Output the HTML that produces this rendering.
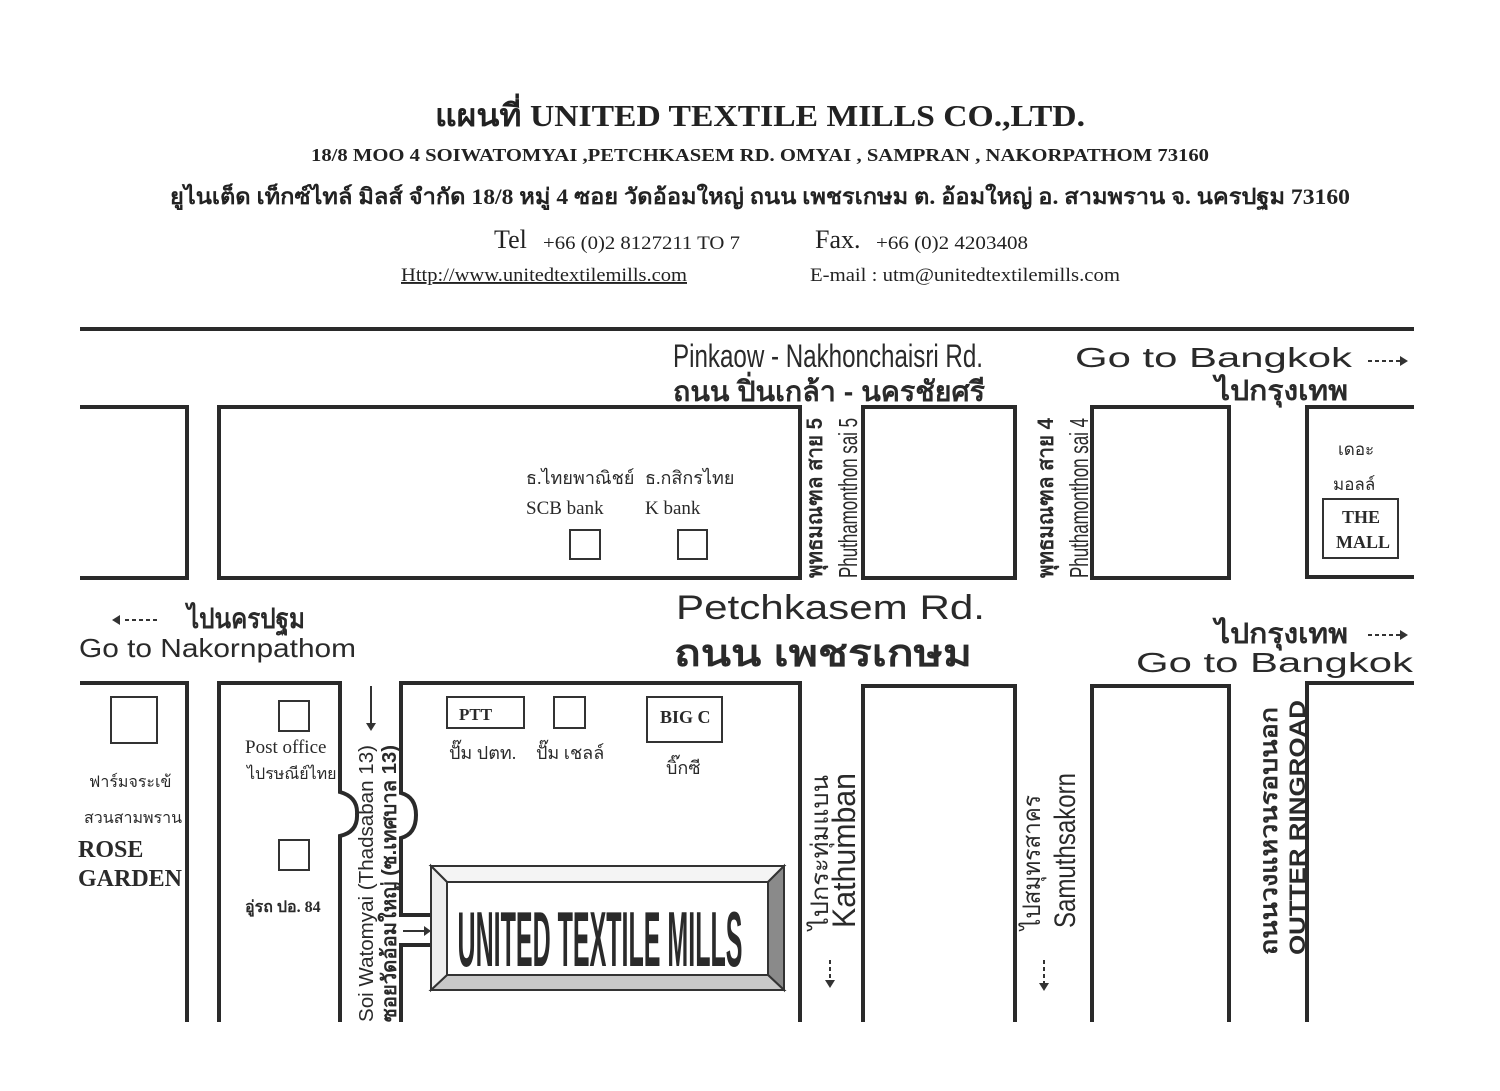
<!DOCTYPE html>
<html><head><meta charset="utf-8"><style>
html,body{margin:0;padding:0;background:#fff;}
svg{display:block}
</style></head><body>
<svg width="1500" height="1091" viewBox="0 0 1500 1091" xmlns="http://www.w3.org/2000/svg">
<rect width="1500" height="1091" fill="#fff"/>
<g font-family="Liberation Serif, 'Noto Serif CJK SC', 'Noto Sans CJK SC', serif" fill="#222" lengthAdjust="spacingAndGlyphs">
<text x="760" y="126" font-size="31" font-weight="bold" text-anchor="middle" textLength="650" lengthAdjust="spacingAndGlyphs">แผนที่ UNITED TEXTILE MILLS CO.,LTD.</text>
<text x="760" y="161" font-size="18" font-weight="bold" text-anchor="middle" textLength="898" lengthAdjust="spacingAndGlyphs">18/8 MOO 4 SOIWATOMYAI ,PETCHKASEM RD. OMYAI , SAMPRAN , NAKORPATHOM 73160</text>
<text x="760" y="204" font-size="22" font-weight="bold" text-anchor="middle" textLength="1180" lengthAdjust="spacingAndGlyphs">ยูไนเต็ด เท็กซ์ไทล์ มิลส์ จำกัด 18/8  หมู่ 4  ซอย วัดอ้อมใหญ่  ถนน เพชรเกษม ต. อ้อมใหญ่  อ. สามพราน  จ. นครปฐม 73160</text>
<text x="494" y="248" font-size="26">Tel</text>
<text x="543" y="249" font-size="19" textLength="197" lengthAdjust="spacingAndGlyphs">+66 (0)2  8127211 TO 7</text>
<text x="815" y="248" font-size="26">Fax.</text>
<text x="876" y="249" font-size="19" textLength="152" lengthAdjust="spacingAndGlyphs">+66 (0)2  4203408</text>
<text x="401" y="281" font-size="19" textLength="286" lengthAdjust="spacingAndGlyphs" text-decoration="underline">Http://www.unitedtextilemills.com</text>
<text x="810" y="281" font-size="19" textLength="310" lengthAdjust="spacingAndGlyphs">E-mail :  utm@unitedtextilemills.com</text>
</g>

<g stroke="#2a2a2a" stroke-width="4" fill="none">
<line x1="80" y1="329" x2="1414" y2="329"/>
<polyline points="80,407 187,407 187,578 80,578"/>
<rect x="219" y="407" width="581" height="171"/>
<rect x="863" y="407" width="152" height="171"/>
<rect x="1092" y="407" width="137" height="171"/>
<polyline points="1414,407 1307,407 1307,577 1414,577"/>
<polyline points="80,683 187,683 187,1022"/>
<path d="M219,1022 L219,683 L340,683 L340,792 Q358,797 357,814 Q358,832 340,836 L340,1022"/>
<path d="M401,1022 L401,945 L431,945 M431,915 L401,915 L401,838 Q416,834 416,815 Q416,797 401,793 L401,683 L800,683 L800,1022"/>
<polyline points="863,1022 863,686 1015,686 1015,1022"/>
<polyline points="1092,1022 1092,686 1229,686 1229,1022"/>
<polyline points="1307,1022 1307,683 1414,683"/>
</g>
<g stroke="#333" stroke-width="2" fill="none">
<rect x="570" y="530" width="30" height="29"/>
<rect x="678" y="530" width="29" height="29"/>
<rect x="1323" y="499" width="75" height="59"/>
<rect x="111" y="697" width="46" height="46"/>
<rect x="279" y="701" width="30" height="30"/>
<rect x="279" y="840" width="30" height="30"/>
<rect x="447" y="697" width="77" height="31"/>
<rect x="554" y="697" width="31" height="31"/>
<rect x="647" y="697" width="75" height="45"/>
<line x1="371" y1="686" x2="371" y2="725"/>
<line x1="403" y1="931" x2="424" y2="931"/>
<line x1="830" y1="960" x2="830" y2="980" stroke-dasharray="4,3"/>
<line x1="1044" y1="960" x2="1044" y2="983" stroke-dasharray="4,3"/>
<line x1="1368" y1="361" x2="1400" y2="361" stroke-dasharray="4,3"/>
<line x1="1368" y1="635" x2="1400" y2="635" stroke-dasharray="4,3"/>
<line x1="125" y1="620" x2="157" y2="620" stroke-dasharray="4,3"/>
</g>
<g fill="#333">
<polygon points="366,723 376,723 371,731"/>
<polygon points="424,926 424,936 431,931"/>
<polygon points="825,980 835,980 830,988"/>
<polygon points="1039,983 1049,983 1044,991"/>
<polygon points="1400,356 1400,366 1408,361"/>
<polygon points="1400,630 1400,640 1408,635"/>
<polygon points="120,615 120,625 112,620"/>
</g>

<g stroke="#333" stroke-width="2">
<polygon points="431,866 784,866 768,882 447,882" fill="#f4f4f4"/>
<polygon points="784,866 784,990 768,975 768,882" fill="#8a8a8a"/>
<polygon points="431,990 784,990 768,975 447,975" fill="#c8c8c8"/>
<polygon points="431,866 447,882 447,975 431,990" fill="#eee"/>
<rect x="447" y="882" width="321" height="93" fill="#fff"/>
</g>
<text x="600" y="966" font-family="Liberation Sans, sans-serif" font-weight="bold" font-size="78" fill="#2a2a2a" text-anchor="middle" textLength="285" lengthAdjust="spacingAndGlyphs">UNITED TEXTILE MILLS</text>

<g font-family="Liberation Sans, 'Noto Sans CJK SC', sans-serif" fill="#2a2a2a">
<text x="673" y="367" font-size="32" textLength="310" lengthAdjust="spacingAndGlyphs">Pinkaow - Nakhonchaisri Rd.</text>
<text x="673" y="401" font-size="28" font-weight="bold" textLength="312" lengthAdjust="spacingAndGlyphs">ถนน ปิ่นเกล้า - นครชัยศรี</text>
<text x="1075" y="367" font-size="28" textLength="277" lengthAdjust="spacingAndGlyphs">Go to Bangkok</text>
<text x="1215" y="400" font-size="28" font-weight="bold" textLength="133" lengthAdjust="spacingAndGlyphs">ไปกรุงเทพ</text>
<text x="676" y="619" font-size="34" textLength="309" lengthAdjust="spacingAndGlyphs">Petchkasem Rd.</text>
<text x="674" y="666" font-size="38" font-weight="bold" textLength="298" lengthAdjust="spacingAndGlyphs">ถนน เพชรเกษม</text>
<text x="187" y="628" font-size="28" font-weight="bold" textLength="118" lengthAdjust="spacingAndGlyphs">ไปนครปฐม</text>
<text x="79" y="657" font-size="26" textLength="277" lengthAdjust="spacingAndGlyphs">Go to Nakornpathom</text>
<text x="1215" y="643" font-size="28" font-weight="bold" textLength="133" lengthAdjust="spacingAndGlyphs">ไปกรุงเทพ</text>
<text x="1136" y="672" font-size="28" textLength="277" lengthAdjust="spacingAndGlyphs">Go to Bangkok</text>
<text font-size="20" transform="translate(373,1022) rotate(-90)" textLength="277" lengthAdjust="spacingAndGlyphs">Soi Watomyai (Thadsaban 13)</text>
<text font-size="20" font-weight="bold" transform="translate(396,1022) rotate(-90)" textLength="277" lengthAdjust="spacingAndGlyphs">ซอยวัดอ้อมใหญ่ (ซ.เทศบาล 13)</text>
<text font-size="24" transform="translate(828,930) rotate(-90)" textLength="155" lengthAdjust="spacingAndGlyphs">ไปกระทุ่มแบน</text>
<text font-size="32" transform="translate(855,928) rotate(-90)" textLength="155" lengthAdjust="spacingAndGlyphs">Kathumban</text>
<text font-size="24" transform="translate(1040,930) rotate(-90)" textLength="135" lengthAdjust="spacingAndGlyphs">ไปสมุทรสาคร</text>
<text font-size="30" transform="translate(1075,928) rotate(-90)" textLength="155" lengthAdjust="spacingAndGlyphs">Samuthsakorn</text>
<text font-size="24" font-weight="bold" transform="translate(1277,955) rotate(-90)" textLength="248" lengthAdjust="spacingAndGlyphs">ถนนวงแหวนรอบนอก</text>
<text font-size="22" font-weight="bold" transform="translate(1305,955) rotate(-90)" textLength="255" lengthAdjust="spacingAndGlyphs">OUTTER RINGROAD</text>
<text font-size="22" font-weight="bold" transform="translate(822,578) rotate(-90)" textLength="160" lengthAdjust="spacingAndGlyphs">พุทธมณฑล สาย 5</text>
<text font-size="26" transform="translate(857,578) rotate(-90)" textLength="160" lengthAdjust="spacingAndGlyphs">Phuthamonthon sai 5</text>
<text font-size="22" font-weight="bold" transform="translate(1053,578) rotate(-90)" textLength="160" lengthAdjust="spacingAndGlyphs">พุทธมณฑล สาย 4</text>
<text font-size="26" transform="translate(1088,578) rotate(-90)" textLength="160" lengthAdjust="spacingAndGlyphs">Phuthamonthon sai 4</text>
</g>
<g font-family="Liberation Serif, 'Noto Serif CJK SC', serif" fill="#2a2a2a">
<text x="526" y="484" font-size="18">ธ.ไทยพาณิชย์</text>
<text x="645" y="484" font-size="18">ธ.กสิกรไทย</text>
<text x="526" y="514" font-size="19">SCB bank</text>
<text x="645" y="514" font-size="19">K bank</text>
<text x="1338" y="455" font-size="17">เดอะ</text>
<text x="1333" y="490" font-size="17">มอลล์</text>
<text x="1361" y="523" font-size="18" font-weight="bold" text-anchor="middle">THE</text>
<text x="1363" y="548" font-size="18" font-weight="bold" text-anchor="middle">MALL</text>
<text x="89" y="787" font-size="16">ฟาร์มจระเข้</text>
<text x="84" y="823" font-size="16">สวนสามพราน</text>
<text x="78" y="857" font-size="24" font-weight="bold">ROSE</text>
<text x="78" y="886" font-size="24" font-weight="bold">GARDEN</text>
<text x="245" y="753" font-size="19">Post office</text>
<text x="247" y="779" font-size="16">ไปรษณีย์ไทย</text>
<text x="245" y="912" font-size="16" font-weight="bold">อู่รถ ปอ. 84</text>
<text x="459" y="720" font-size="17" font-weight="bold">PTT</text>
<text x="660" y="723" font-size="18" font-weight="bold">BIG C</text>
<text x="449" y="759" font-size="18">ปั๊ม ปตท.</text>
<text x="536" y="759" font-size="18">ปั๊ม เชลล์</text>
<text x="666" y="774" font-size="18">บิ๊กซี</text>
</g>
</svg>
</body></html>
